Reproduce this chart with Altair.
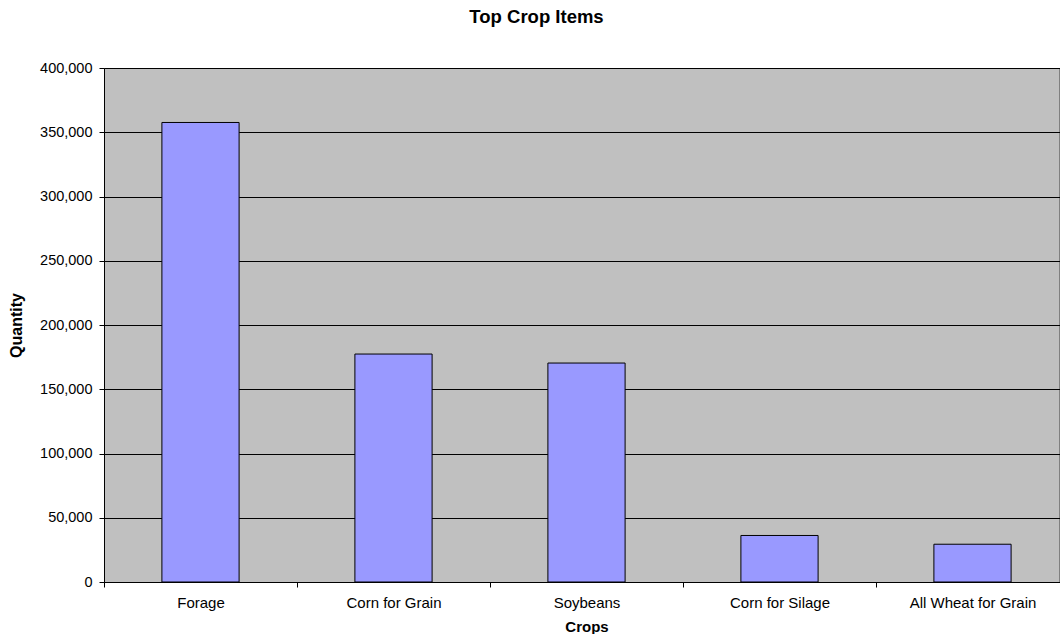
import altair as alt
import pandas as pd

crops = ["Forage", "Corn for Grain", "Soybeans", "Corn for Silage", "All Wheat for Grain"]
quantity = [357600, 177400, 170400, 36200, 29400]

df = pd.DataFrame({"Crops": crops, "Quantity": quantity})

FONT = "Liberation Sans"

chart = alt.Chart(df).mark_bar(
    color="#9999FF", stroke="#000000", strokeWidth=1, width={"band": 0.4}
).encode(
    x=alt.X("Crops:N", sort=crops,
            scale=alt.Scale(paddingInner=0, paddingOuter=0, range=[0, 965]),
            axis=alt.Axis(title="Crops", labelAngle=0, tickBand="extent",
                          labelFontSize=15, labelFont=FONT, labelColor="#000000",
                          titleFont=FONT, titleFontSize=15, titleFontWeight="bold",
                          titleColor="#000000", titlePadding=9,
                          tickColor="#000000", tickSize=5, labelPadding=8,
                          domainColor="#000000", grid=False)),
    y=alt.Y("Quantity:Q", scale=alt.Scale(domain=[0, 400000], nice=False),
            axis=alt.Axis(title="Quantity", format=",.0f", values=list(range(0, 400001, 50000)),
                          labelFontSize=14.5, labelFont=FONT, labelColor="#000000",
                          titleFont=FONT, titleFontSize=16, titleFontWeight="bold",
                          titleColor="#000000", titlePadding=15,
                          tickColor="#000000", tickSize=5, labelPadding=7,
                          domainColor="#000000", gridColor="#000000", gridOpacity=1,
                          gridWidth=1)),
).properties(
    width=955, height=514,
    padding={"left": 104, "top": 68, "right": 1, "bottom": 52},
    autosize="none",
    background="#FFFFFF",
    title=alt.TitleParams("Top Crop Items", font=FONT, fontSize=18.5, fontWeight="bold",
                          color="#000000", anchor="middle", baseline="bottom",
                          offset=15, dx=-45),
).configure_view(
    fill="#C0C0C0", stroke="#808080", strokeWidth=1
)

chart.save("out.html", embed_options={"renderer": "svg", "actions": False})
